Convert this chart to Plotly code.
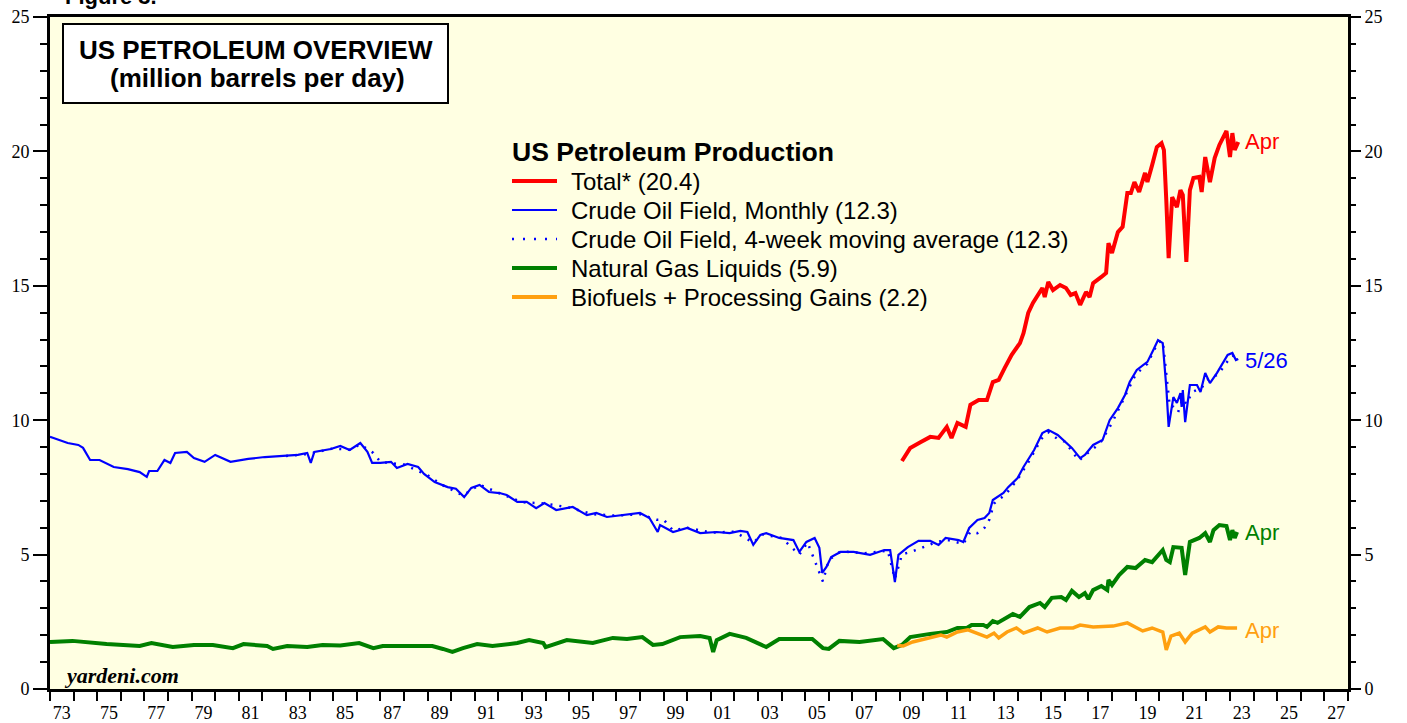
import plotly.graph_objects as go

# ---------------- data (decimal years, million barrels per day) ----------------
crude_m_x = [1973.0, 1973.15, 1973.75, 1974.2, 1974.4, 1974.7, 1975.1, 1975.4, 1975.7, 1976.3,
             1976.6, 1976.8, 1977.1, 1977.2, 1977.55, 1977.85, 1978.1, 1978.3, 1978.8, 1979.1,
             1979.55, 1980.0, 1980.65, 1981.4, 1982.1, 1982.8, 1983.5, 1983.9, 1984.05, 1984.2,
             1984.9, 1985.3, 1985.7, 1986.15, 1986.45, 1986.65, 1987.0, 1987.45, 1987.7, 1988.15,
             1988.6, 1988.85, 1989.3, 1989.85, 1990.2, 1990.55, 1990.85, 1991.2, 1991.6, 1992.05,
             1992.35, 1992.8, 1993.2, 1993.6, 1993.95, 1994.45, 1995.15, 1995.75, 1996.15, 1996.6,
             1997.25, 1998.0, 1998.4, 1998.75, 1998.85, 1999.4, 2000.0, 2000.55, 2001.25, 2001.8,
             2002.25, 2002.55, 2002.8, 2003.1, 2003.35, 2003.9, 2004.5, 2004.75, 2005.05, 2005.4,
             2005.6, 2005.72, 2005.9, 2006.1, 2006.5, 2007.05, 2007.75, 2008.35, 2008.6, 2008.8,
             2008.95, 2009.35, 2009.8, 2010.3, 2010.65, 2010.95, 2011.5, 2011.7, 2011.95, 2012.3,
             2012.6, 2012.8, 2012.95, 2013.4, 2013.6, 2014.0, 2014.25, 2014.7, 2015.05, 2015.3,
             2015.7, 2015.95, 2016.3, 2016.65, 2016.85, 2017.2, 2017.6, 2017.9, 2018.25, 2018.55,
             2018.75, 2019.05, 2019.3, 2019.5, 2019.75, 2019.95, 2020.15, 2020.3, 2020.4, 2020.6,
             2020.75, 2020.9, 2020.95, 2021.0, 2021.1, 2021.3, 2021.6, 2021.75, 2021.95, 2022.15,
             2022.45, 2022.7, 2022.9, 2023.1, 2023.25, 2023.35]
crude_m_v = [9.38, 9.34, 9.15, 9.08, 8.97, 8.52, 8.52, 8.40, 8.26, 8.18,
             8.11, 8.07, 7.89, 8.11, 8.11, 8.52, 8.41, 8.78, 8.82, 8.59,
             8.45, 8.71, 8.45, 8.56, 8.63, 8.67, 8.71, 8.78, 8.41, 8.82,
             8.93, 9.04, 8.89, 9.15, 8.82, 8.41, 8.41, 8.45, 8.22, 8.37,
             8.26, 8.00, 7.70, 7.51, 7.45, 7.14, 7.48, 7.59, 7.33, 7.29,
             7.22, 6.96, 6.96, 6.73, 6.92, 6.66, 6.77, 6.47, 6.55, 6.40,
             6.47, 6.55, 6.36, 5.84, 6.10, 5.84, 5.99, 5.80, 5.84, 5.80,
             5.88, 5.84, 5.36, 5.73, 5.80, 5.62, 5.54, 5.10, 5.47, 5.62,
             5.25, 4.32, 4.54, 4.91, 5.10, 5.10, 4.99, 5.17, 5.17, 3.98,
             4.99, 5.28, 5.51, 5.51, 5.36, 5.62, 5.54, 5.47, 5.99, 6.29,
             6.36, 6.55, 7.03, 7.29, 7.51, 7.85, 8.26, 8.89, 9.52, 9.64,
             9.45, 9.26, 8.97, 8.59, 8.71, 9.08, 9.26, 10.00, 10.45, 10.94,
             11.42, 11.87, 12.05, 12.17, 12.61, 12.98, 12.87, 11.24, 9.75, 10.86,
             10.64, 11.01, 10.49, 11.12, 9.93, 11.31, 11.31, 11.05, 11.76, 11.38,
             11.76, 12.13, 12.43, 12.50, 12.24, 12.28]

crude_w_x = [1983.0, 1984.0, 1985.0, 1985.7, 1986.15, 1986.7, 1987.0, 1988.0, 1989.0, 1989.6,
             1990.5, 1991.2, 1992.0, 1993.0, 1994.0, 1995.0, 1996.0, 1997.0, 1998.0, 1998.7,
             1999.0, 1999.4, 2000.0, 2001.0, 2002.0, 2002.8, 2003.2, 2004.0, 2004.75, 2005.1,
             2005.75, 2006.0, 2006.5, 2007.5, 2008.5, 2008.8, 2009.1, 2009.8, 2010.5, 2011.0,
             2011.7, 2012.0, 2012.3, 2012.6, 2012.8, 2013.0, 2013.5, 2014.0, 2014.5, 2015.0,
             2015.3, 2015.7, 2016.0, 2016.6, 2017.0, 2017.5, 2018.0, 2018.5, 2019.0, 2019.5,
             2019.95, 2020.15, 2020.3, 2020.45, 2020.6, 2020.8, 2021.0, 2021.15, 2021.4, 2021.8,
             2022.0, 2022.5, 2022.9, 2023.1, 2023.4]
crude_w_v = [8.67, 8.75, 8.95, 8.90, 9.10, 8.78, 8.45, 8.35, 7.95, 7.60,
             7.20, 7.60, 7.30, 6.95, 6.90, 6.75, 6.50, 6.45, 6.50, 6.30,
             6.30, 5.90, 6.00, 5.82, 5.85, 5.45, 5.75, 5.62, 5.00, 5.45,
             4.00, 4.80, 5.12, 5.05, 5.15, 4.10, 5.00, 5.20, 5.45, 5.55,
             5.40, 5.85, 5.80, 6.00, 6.30, 6.90, 7.25, 7.80, 8.50, 9.30,
             9.55, 9.30, 9.20, 8.50, 8.80, 9.15, 9.90, 10.80, 11.70, 12.10,
             12.90, 12.95, 11.60, 10.50, 10.50, 10.30, 10.80, 10.60, 11.05, 11.20,
             11.50, 11.70, 12.20, 12.40, 12.28]

ngl_x = [1973.0, 1973.95, 1975.4, 1976.8, 1977.3, 1978.2, 1979.1, 1979.9, 1980.75, 1981.2,
         1982.2, 1982.45, 1983.05, 1983.9, 1984.55, 1985.3, 1986.1, 1986.7, 1987.1, 1988.1,
         1989.2, 1989.65, 1990.05, 1990.5, 1991.1, 1991.75, 1992.8, 1993.3, 1993.9, 1994.0,
         1994.9, 1996.0, 1996.85, 1997.45, 1998.1, 1998.55, 1998.95, 1999.7, 2000.55, 2000.95,
         2001.1, 2001.25, 2001.8, 2002.5, 2003.35, 2003.9, 2005.3, 2005.75, 2006.0, 2006.45,
         2007.3, 2008.3, 2008.75, 2009.1, 2009.45, 2010.3, 2011.0, 2011.45, 2011.85, 2012.05,
         2012.55, 2012.7, 2012.95, 2013.15, 2013.55, 2013.8, 2014.1, 2014.5, 2014.95, 2015.15,
         2015.45, 2015.85, 2016.05, 2016.3, 2016.6, 2016.85, 2017.0, 2017.2, 2017.55, 2017.8,
         2017.85, 2018.0, 2018.3, 2018.65, 2019.0, 2019.4, 2019.7, 2020.0, 2020.15, 2020.3,
         2020.45, 2020.6, 2020.95, 2021.1, 2021.3, 2021.7, 2021.95, 2022.15, 2022.3, 2022.55,
         2022.85, 2023.0, 2023.1, 2023.2, 2023.3]
ngl_v = [1.75, 1.79, 1.67, 1.60, 1.71, 1.56, 1.64, 1.64, 1.52, 1.67,
         1.60, 1.49, 1.60, 1.56, 1.64, 1.62, 1.71, 1.52, 1.60, 1.60,
         1.60, 1.49, 1.38, 1.52, 1.67, 1.60, 1.71, 1.82, 1.71, 1.56,
         1.82, 1.71, 1.90, 1.86, 1.93, 1.64, 1.67, 1.93, 1.97, 1.90,
         1.38, 1.82, 2.05, 1.90, 1.56, 1.86, 1.86, 1.52, 1.49, 1.79,
         1.75, 1.86, 1.52, 1.64, 1.93, 2.05, 2.12, 2.27, 2.27, 2.38,
         2.38, 2.31, 2.53, 2.46, 2.64, 2.79, 2.68, 3.05, 3.20, 3.05,
         3.39, 3.42, 3.31, 3.65, 3.42, 3.57, 3.35, 3.68, 3.83, 3.68,
         4.06, 3.87, 4.24, 4.54, 4.50, 4.80, 4.72, 5.02, 5.17, 4.80,
         4.72, 5.28, 5.25, 4.24, 5.47, 5.62, 5.80, 5.47, 5.91, 6.10,
         6.06, 5.54, 5.91, 5.62, 5.84]

bio_x = [2008.9, 2009.15, 2009.55, 2010.3, 2010.75, 2011.0, 2011.45, 2011.9, 2012.3, 2012.7,
         2013.0, 2013.2, 2013.55, 2013.95, 2014.25, 2014.85, 2015.25, 2015.8, 2016.35, 2016.65,
         2017.2, 2018.05, 2018.65, 2019.0, 2019.3, 2019.7, 2020.15, 2020.3, 2020.5, 2020.85,
         2021.1, 2021.4, 2021.95, 2022.15, 2022.5, 2022.85, 2023.3]
bio_v = [1.62, 1.60, 1.75, 1.93, 2.01, 1.93, 2.12, 2.20, 2.08, 1.93,
         2.08, 1.90, 2.12, 2.27, 2.08, 2.27, 2.12, 2.27, 2.27, 2.38,
         2.31, 2.34, 2.46, 2.31, 2.16, 2.27, 2.12, 1.45, 1.97, 2.08,
         1.75, 2.08, 2.31, 2.12, 2.31, 2.27, 2.27]

total_x = [2009.1, 2009.45, 2009.9, 2010.3, 2010.65, 2011.0, 2011.2, 2011.45, 2011.8, 2012.0,
           2012.35, 2012.7, 2012.95, 2013.2, 2013.45, 2013.75, 2014.1, 2014.25, 2014.45, 2014.65,
           2015.05, 2015.15, 2015.3, 2015.5, 2015.8, 2016.05, 2016.25, 2016.45, 2016.65, 2016.9,
           2017.05, 2017.2, 2017.55, 2017.75, 2017.85, 2018.0, 2018.25, 2018.45, 2018.65, 2018.8,
           2018.95, 2019.15, 2019.4, 2019.5, 2019.7, 2019.9, 2020.1, 2020.2, 2020.3, 2020.4,
           2020.55, 2020.75, 2020.9, 2021.0, 2021.15, 2021.3, 2021.45, 2021.7, 2021.8, 2021.95,
           2022.15, 2022.35, 2022.55, 2022.85, 2023.0, 2023.1, 2023.2, 2023.35]
total_v = [8.48, 8.97, 9.19, 9.38, 9.34, 9.75, 9.34, 9.90, 9.75, 10.57,
           10.75, 10.75, 11.42, 11.50, 11.94, 12.43, 12.87, 13.24, 13.99, 14.36,
           14.92, 14.58, 15.14, 14.84, 15.03, 14.92, 14.66, 14.73, 14.29, 14.77,
           14.58, 15.10, 15.33, 15.48, 16.59, 16.22, 17.00, 17.19, 18.45, 18.45,
           18.86, 18.49, 19.20, 18.86, 19.49, 20.16, 20.31, 20.05, 18.19, 16.03,
           18.30, 17.93, 18.56, 18.38, 15.89, 18.56, 19.01, 19.05, 18.49, 19.79,
           18.86, 19.75, 20.24, 20.76, 19.79, 20.68, 20.05, 20.35]

x_label_years = list(range(1973, 2028, 2))
x_tick_text = [f"{y % 100:02d}" for y in x_label_years]

legend_names = ["Total* (20.4)",
                "Crude Oil Field, Monthly (12.3)",
                "Crude Oil Field, 4-week moving average (12.3)",
                "Natural Gas Liquids (5.9)",
                "Biofuels + Processing Gains (2.2)"]

# ---------------- figure ----------------
RED, BLUE, GREEN, ORANGE = "#FF0000", "#0000FF", "#008000", "#FFA010"
W, H = 1407, 723
L, R, T, B = 50, 59, 17, 34
PW, PH = W - L - R, H - T - B


def px(xp):
    return (xp - L) / PW


def py(yp):
    return (H - B - yp) / PH


fig = go.Figure()
fig.add_trace(go.Scatter(x=ngl_x, y=ngl_v, mode="lines", name=legend_names[3],
                         line=dict(color=GREEN, width=4)))
fig.add_trace(go.Scatter(x=bio_x, y=bio_v, mode="lines", name=legend_names[4],
                         line=dict(color=ORANGE, width=3.5)))
fig.add_trace(go.Scatter(x=crude_w_x, y=crude_w_v, mode="lines", name=legend_names[2],
                         line=dict(color=BLUE, width=2.5, dash="2px,7px")))
fig.add_trace(go.Scatter(x=crude_m_x, y=crude_m_v, mode="lines", name=legend_names[1],
                         line=dict(color=BLUE, width=2.2)))
fig.add_trace(go.Scatter(x=total_x, y=total_v, mode="lines", name=legend_names[0],
                         line=dict(color=RED, width=4)))
# invisible trace so the right-hand axis is drawn
fig.add_trace(go.Scatter(x=[1973], y=[0], yaxis="y2", mode="lines", showlegend=False,
                         hoverinfo="skip", line=dict(width=0)))

tick_font = dict(family="Liberation Serif, Times New Roman", size=18, color="black")

fig.update_layout(
    width=W, height=H,
    margin=dict(l=L, r=R, t=T, b=B, autoexpand=False),
    paper_bgcolor="white",
    plot_bgcolor="#FFFFE2",
    showlegend=False,
    xaxis=dict(
        range=[1973, 2028], showgrid=False, zeroline=False, automargin=False,
        tickmode="array", tickvals=[y + 0.5 for y in x_label_years], ticktext=x_tick_text,
        ticks="", ticklabelstandoff=5, tickfont=tick_font,
        minor=dict(tickmode="linear", tick0=1973, dtick=1, ticks="outside",
                   ticklen=9, tickwidth=2, tickcolor="black", showgrid=False),
        showline=True, linecolor="black", linewidth=3, mirror=True,
    ),
    yaxis=dict(
        range=[0, 25], showgrid=False, zeroline=False, automargin=False,
        tickmode="linear", tick0=0, dtick=5, ticks="outside", ticklen=14, tickwidth=1.5,
        tickcolor="black", tickfont=tick_font,
        minor=dict(tickmode="linear", tick0=0, dtick=1, ticks="outside", ticklen=7,
                   tickwidth=1.5, tickcolor="black", showgrid=False),
        showline=True, linecolor="black", linewidth=3, mirror=True,
    ),
    yaxis2=dict(
        range=[0, 25], overlaying="y", side="right", showgrid=False, zeroline=False,
        automargin=False,
        tickmode="linear", tick0=0, dtick=5, ticks="outside", ticklen=12, tickwidth=1.5,
        tickcolor="black", tickfont=tick_font,
        minor=dict(tickmode="linear", tick0=0, dtick=1, ticks="outside", ticklen=7,
                   tickwidth=1.5, tickcolor="black", showgrid=False),
        showline=False,
    ),
)

# title box
fig.add_shape(type="rect", xref="paper", yref="paper",
              x0=px(63), x1=px(448), y0=py(103), y1=py(24),
              fillcolor="white", line=dict(color="black", width=2), layer="above")
title_font = dict(family="Liberation Sans, Arial", size=26, color="black")
fig.add_annotation(xref="paper", yref="paper", x=px(256), y=py(50), xanchor="center",
                   yanchor="middle", showarrow=False, text="<b>US PETROLEUM OVERVIEW</b>",
                   font=title_font)
fig.add_annotation(xref="paper", yref="paper", x=px(257), y=py(78), xanchor="center",
                   yanchor="middle", showarrow=False, text="<b>(million barrels per day)</b>",
                   font=title_font)

# partially visible figure caption at the very top (cut off in the original too)
fig.add_annotation(xref="paper", yref="paper", x=px(63), y=py(-4), xanchor="left",
                   yanchor="middle", showarrow=False, text="<b>Figure 3.</b>",
                   font=dict(family="Liberation Sans, Arial", size=22, color="black"))

# legend (drawn by hand to match the original layout)
fig.add_annotation(xref="paper", yref="paper", x=px(510), y=py(152), xanchor="left",
                   yanchor="middle", showarrow=False, text="<b>US Petroleum Production</b>",
                   font=dict(family="Liberation Sans, Arial", size=26.6, color="black"))
leg_styles = [dict(color=RED, width=4), dict(color=BLUE, width=2.2),
              dict(color=BLUE, width=2.5, dash="2px,9px"),
              dict(color=GREEN, width=4), dict(color=ORANGE, width=4)]
leg_y = [181, 210, 239, 268, 297]
for name, style, yy in zip(legend_names, leg_styles, leg_y):
    fig.add_shape(type="line", xref="paper", yref="paper", x0=px(512), x1=px(557),
                  y0=py(yy), y1=py(yy), line=style)
    fig.add_annotation(xref="paper", yref="paper", x=px(569), y=py(yy), xanchor="left",
                       yanchor="middle", showarrow=False, text=name,
                       font=dict(family="Liberation Sans, Arial", size=24, color="black"))

# end labels
end_font = dict(family="Liberation Sans, Arial", size=22)
fig.add_annotation(x=2023.55, y=total_v[-1], text="Apr", showarrow=False, xanchor="left",
                   font=dict(end_font, color=RED))
fig.add_annotation(x=2023.55, y=crude_w_v[-1] - 0.05, text="5/26", showarrow=False, xanchor="left",
                   font=dict(end_font, color=BLUE))
fig.add_annotation(x=2023.55, y=ngl_v[-1], text="Apr", showarrow=False, xanchor="left",
                   font=dict(end_font, color=GREEN))
fig.add_annotation(x=2023.55, y=bio_v[-1] - 0.1, text="Apr", showarrow=False, xanchor="left",
                   font=dict(end_font, color=ORANGE))

# source
fig.add_annotation(xref="paper", yref="paper", x=px(62), y=py(675),
                   xanchor="left", yanchor="middle", showarrow=False,
                   text="<b><i>yardeni.com</i></b>",
                   font=dict(family="Liberation Serif, Times New Roman", size=22, color="black"))

# remove the browser's default page margin so the figure sits at the window's corner
fig.write_html("out.html", config={"displayModeBar": False},
               post_script="document.body.style.margin='0';")
